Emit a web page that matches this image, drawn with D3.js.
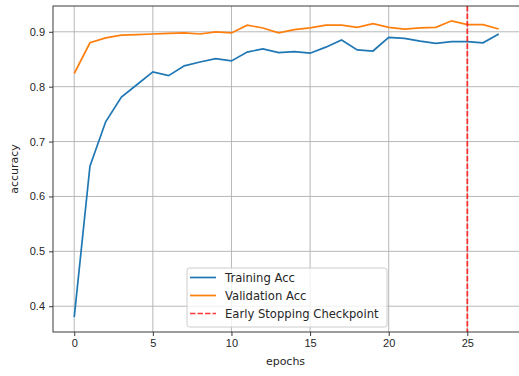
<!DOCTYPE html>
<html lang="en">
<head>
<meta charset="UTF-8">
<title>accuracy-chart</title>
<script src="https://cdn.jsdelivr.net/npm/d3@7"></script>
<style>
  body { margin: 0; background: #fff; }
  svg { font-family: "DejaVu Sans", sans-serif; }
  .grid line { stroke: #b0b0b0; stroke-width: 0.9; }
  .axis text { font-size: 11px; fill: #262626; }
  .axis line { stroke: #262626; stroke-width: 0.9; }
</style>
</head>
<body>
<script>
// epochs 0..27
const epochs = d3.range(28);
const trainAcc = [0.380, 0.655, 0.736, 0.781, 0.804, 0.827, 0.820, 0.838, 0.845, 0.851,
  0.847, 0.863, 0.869, 0.862, 0.864, 0.861, 0.872, 0.885, 0.867, 0.865,
  0.890, 0.888, 0.883, 0.879, 0.882, 0.882, 0.880, 0.896];
const valAcc = [0.824, 0.880, 0.889, 0.894, 0.895, 0.896, 0.897, 0.898, 0.896, 0.900,
  0.898, 0.912, 0.907, 0.898, 0.904, 0.907, 0.912, 0.912, 0.908, 0.915,
  0.908, 0.905, 0.907, 0.908, 0.920, 0.913, 0.913, 0.905];
const checkpoint = 25;
const xTicks = [0, 5, 10, 15, 20, 25];
const yTicks = [0.4, 0.5, 0.6, 0.7, 0.8, 0.9];
const legendLabels = ['Training Acc', 'Validation Acc', 'Early Stopping Checkpoint'];

const width = 519, height = 376;
const margin = {top: 6, left: 53, right: -1, bottom: 44};
const innerW = width - margin.left - margin.right;
const innerH = height - margin.top - margin.bottom;

const allVals = trainAcc.concat(valAcc);
const yMin = d3.min(allVals), yMax = d3.max(allVals);
const yPad = (yMax - yMin) * 0.05;
const xPad = (epochs.length - 1) * 0.05;

const x = d3.scaleLinear().domain([-xPad, epochs.length - 1 + xPad]).range([0, innerW]);
const y = d3.scaleLinear().domain([yMin - yPad, yMax + yPad]).range([innerH, 0]);

const svg = d3.select('body').append('svg')
  .attr('width', width)
  .attr('height', height);

const g = svg.append('g')
  .attr('transform', 'translate(' + margin.left + ',' + margin.top + ')');

// grid
const grid = g.append('g').attr('class', 'grid');
grid.selectAll('line.gx').data(xTicks).enter().append('line')
  .attr('x1', d => x(d)).attr('x2', d => x(d))
  .attr('y1', 0).attr('y2', innerH);
grid.selectAll('line.gy').data(yTicks).enter().append('line')
  .attr('x1', 0).attr('x2', innerW)
  .attr('y1', d => y(d)).attr('y2', d => y(d));

// axes
const xAxis = d3.axisBottom(x).tickValues(xTicks).tickFormat(d3.format('d'))
  .tickSize(4).tickPadding(3.5);
const yAxis = d3.axisLeft(y).tickValues(yTicks).tickFormat(d3.format('.1f'))
  .tickSize(4).tickPadding(4);

const gx = g.append('g').attr('class', 'axis')
  .attr('transform', 'translate(0,' + innerH + ')')
  .call(xAxis);
const gy = g.append('g').attr('class', 'axis').call(yAxis);
gx.select('.domain').remove();
gy.select('.domain').remove();

// lines
const line = d3.line().x((d, i) => x(epochs[i])).y(d => y(d));

g.append('path')
  .datum(trainAcc)
  .attr('d', line)
  .attr('fill', 'none')
  .attr('stroke', '#1f77b4')
  .attr('stroke-width', 1.7);

g.append('path')
  .datum(valAcc)
  .attr('d', line)
  .attr('fill', 'none')
  .attr('stroke', '#ff7f0e')
  .attr('stroke-width', 1.7);

g.append('line')
  .attr('x1', x(checkpoint)).attr('x2', x(checkpoint))
  .attr('y1', 0).attr('y2', innerH)
  .attr('stroke', '#ff1a1a')
  .attr('stroke-opacity', 0.85)
  .attr('stroke-width', 1.8)
  .attr('stroke-dasharray', '5.5,2');

// frame
g.append('rect')
  .attr('x', 0).attr('y', 0)
  .attr('width', innerW).attr('height', innerH)
  .attr('fill', 'none')
  .attr('stroke', '#262626')
  .attr('stroke-width', 0.9);

// labels
svg.append('text')
  .attr('x', margin.left + innerW / 2 - 1)
  .attr('y', 364.5)
  .attr('text-anchor', 'middle')
  .attr('font-size', 11)
  .attr('fill', '#262626')
  .text('epochs');

svg.append('text')
  .attr('transform', 'translate(18,' + (margin.top + innerH / 2) + ') rotate(-90)')
  .attr('text-anchor', 'middle')
  .attr('font-size', 11)
  .attr('fill', '#262626')
  .text('accuracy');

// legend
const legW = 200, legH = 59;
const legX = 187, legY = innerH + margin.top - 5 - legH;
const legend = svg.append('g').attr('transform', 'translate(' + legX + ',' + legY + ')');
legend.append('rect')
  .attr('width', legW).attr('height', legH)
  .attr('rx', 2.5)
  .attr('fill', 'white').attr('fill-opacity', 0.8)
  .attr('stroke', '#cccccc').attr('stroke-width', 1);

const legColors = ['#1f77b4', '#ff7f0e', '#ff1a1a'];
const legDash = [null, null, '5.5,2'];
legendLabels.forEach(function (label, i) {
  const ly = 9.5 + i * 18;
  legend.append('line')
    .attr('x1', 3).attr('x2', 29)
    .attr('y1', ly).attr('y2', ly)
    .attr('stroke', legColors[i])
    .attr('stroke-opacity', i === 2 ? 0.85 : 1)
    .attr('stroke-width', 1.7)
    .attr('stroke-dasharray', legDash[i]);
  legend.append('text')
    .attr('x', 38).attr('y', ly + 4)
    .attr('font-size', 11.6)
    .attr('fill', '#262626')
    .text(label);
});
</script>
</body>
</html>
